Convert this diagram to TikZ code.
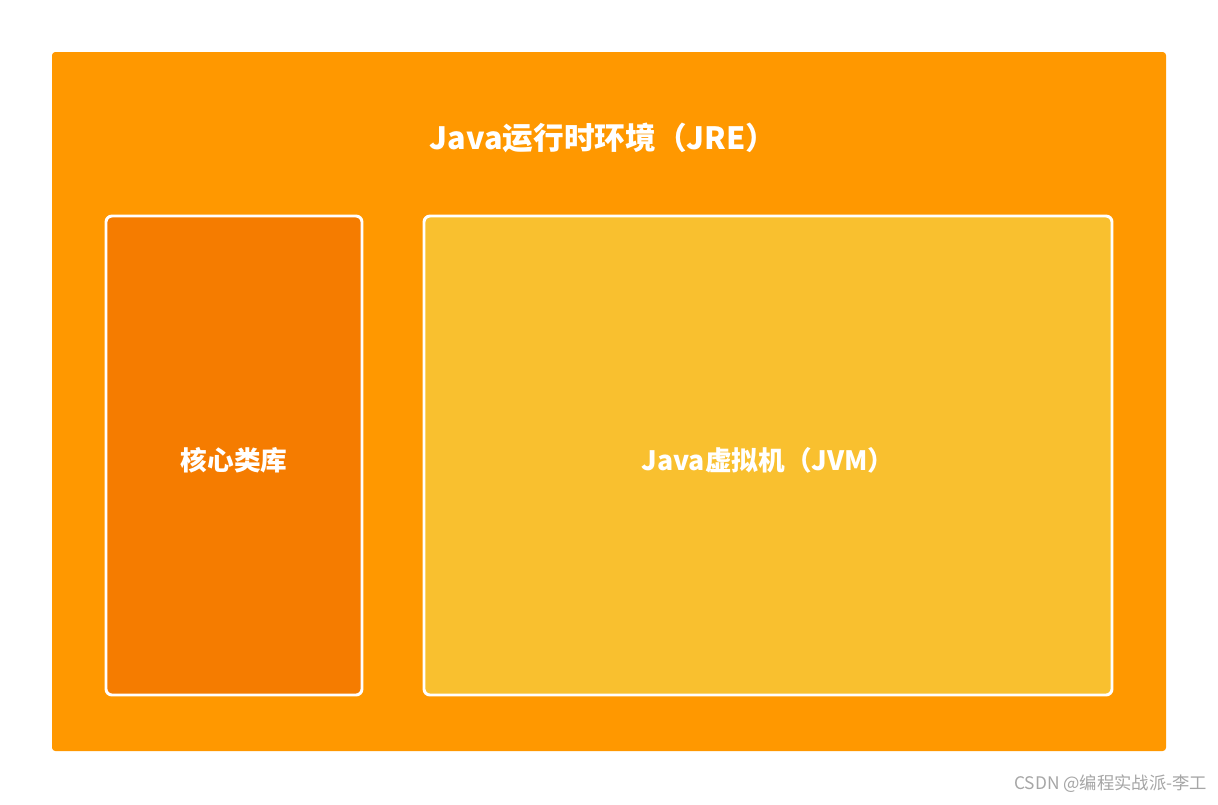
\documentclass[tikz,border=0pt]{standalone}
\usepackage{fontspec}
\setmainfont{Noto Sans CJK SC}
\definecolor{outerc}{HTML}{FF9800}
\definecolor{leftc}{HTML}{F57C00}
\definecolor{rightc}{HTML}{F9C02F}
\tikzset{inner box/.style={draw=white,line width=2.2pt,rounded corners=4.5pt},
lbl/.style={text=white,font=\bfseries\fontsize{20}{24}\selectfont}}
\begin{document}
\begin{tikzpicture}[x=0.75pt,y=-0.75pt]
\useasboundingbox[fill=white] (0,0) rectangle (1218,804);
\fill[outerc,rounded corners=2.5pt] (52,52) rectangle (1166,751);
\draw[inner box,fill=leftc] (106,216) rectangle (362,695);
\draw[inner box,fill=rightc] (424,216) rectangle (1112,695);
\node[lbl,font=\bfseries\fontsize{23}{28}\selectfont] (title) at (603,138) {Java运行时环境（JRE）};
\node[lbl] (lib) at (234,460) {核心类库};
\node[lbl] (jvm) at (768,460) {Java虚拟机（JVM）};
\node[text=gray!70,font=\fontsize{13}{16}\selectfont,anchor=east] (wm) at (1212,784) {CSDN @编程实战派-李工};
\end{tikzpicture}
\end{document}
